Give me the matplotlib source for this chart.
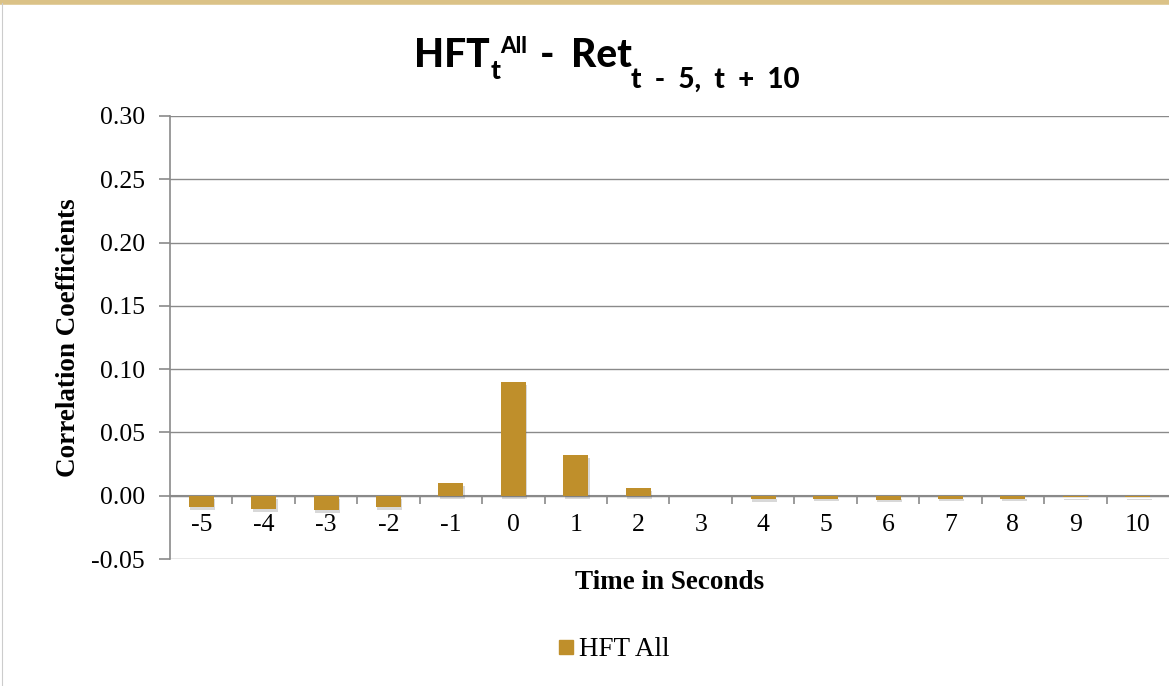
import numpy as np
import matplotlib.pyplot as plt
import matplotlib.patheffects as pe
from matplotlib.lines import Line2D

# values
lags = ['-5', '-4', '-3', '-2', '-1', '0', '1', '2', '3', '4', '5', '6', '7', '8', '9', '10']
corr = [-0.009, -0.0105, -0.0116, -0.009, 0.010, 0.090, 0.0324, 0.006,
        -0.0003, -0.0024, -0.0022, -0.003, -0.0022, -0.0022, -0.0008, -0.0008]
yticks = [-0.05, 0.00, 0.05, 0.10, 0.15, 0.20, 0.25, 0.30]

bar_color = '#BF8F2B'
grid_color = '#8A8A8A'
serif = 'Liberation Serif'

fig = plt.figure(figsize=(11.69, 6.86), dpi=100)
ax = fig.add_axes([0.1454, 0.185, 0.8546, 0.646])

x = np.arange(len(lags))
bars = ax.bar(x, corr, width=0.4, color=bar_color, zorder=3)
for b in bars:
    b.set_path_effects([pe.SimplePatchShadow(offset=(1, -2), shadow_rgbFace='#666666', alpha=0.25),
                        pe.Normal()])

ax.set_xlim(-0.5, len(lags) - 0.5)
ax.set_ylim(-0.05, 0.30)
ax.set_yticks(yticks)
ax.set_yticklabels([f'{v:.2f}' for v in yticks], fontsize=18.5, family=serif)
ax.yaxis.grid(True, color=grid_color, linewidth=1.0, zorder=0)
ax.set_axisbelow(True)

ax.spines['bottom'].set_position(('data', 0))
ax.spines['bottom'].set_color(grid_color)
ax.spines['bottom'].set_linewidth(1.5)
ax.spines['left'].set_color(grid_color)
ax.spines['left'].set_linewidth(1.2)
ax.spines['top'].set_visible(False)
ax.spines['right'].set_visible(False)

ax.set_xticks(x)
ax.set_xticklabels(lags, fontsize=18.5, family=serif)
ax.tick_params(axis='x', which='major', length=0, pad=13)
ax.set_xticks(np.arange(0.5, len(lags) - 0.5, 1.0), minor=True)
ax.tick_params(axis='x', which='minor', length=6, width=1.2, color=grid_color, direction='out')
ax.tick_params(axis='y', length=8, width=1.2, color=grid_color, pad=10)

ax.set_xlabel('Time in Seconds', fontsize=19.5, family=serif, fontweight='bold')
ax.xaxis.set_label_coords(0.5, -0.025)
ax.set_ylabel('Correlation Coefficients', fontsize=19.5, family=serif, fontweight='bold')
ax.yaxis.set_label_coords(-0.089, 0.5)

# title built from pieces so that sub/superscripts sit like the original
tfont = dict(family='Lato', fontweight='black', color='black')
H = 686


def piece(s, prev, base, size, gap):
    a = plt.Annotation(s, xy=(1, H - base), xycoords=(prev, 'figure pixels'),
                       xytext=(gap, 0), textcoords='offset pixels',
                       fontsize=size, va='baseline', **tfont)
    return fig.add_artist(a)


t1 = fig.text(414 / 1169, 1 - 67 / H, 'HFT', fontsize=28, va='baseline', **tfont)
t2 = piece('t', t1, 79, 19, 1)
t3 = piece('All', t2, 53, 16, 0)
t4 = piece('-', t3, 67, 28, 12)
t5 = piece('Ret', t4, 67, 28, 17)
t6 = piece('t  -  5,  t  +  10', t5, 88, 20, -1)

handle = Line2D([], [], marker='s', linestyle='none', markersize=10.5,
                markerfacecolor=bar_color, markeredgecolor=bar_color)
fig.legend([handle], ['HFT All'], loc='center', bbox_to_anchor=(0.524, 0.0525),
           frameon=False, prop={'family': serif, 'size': 19.5},
           handletextpad=0.1, handlelength=0.8)

# frame decoration
fig.add_artist(Line2D([0, 1], [0.997, 0.997], color='#DBC287', linewidth=4))
fig.add_artist(Line2D([0.002, 0.002], [0, 0.995], color='#CCCCCC', linewidth=0.8))

fig.savefig('out.png', dpi=100)
